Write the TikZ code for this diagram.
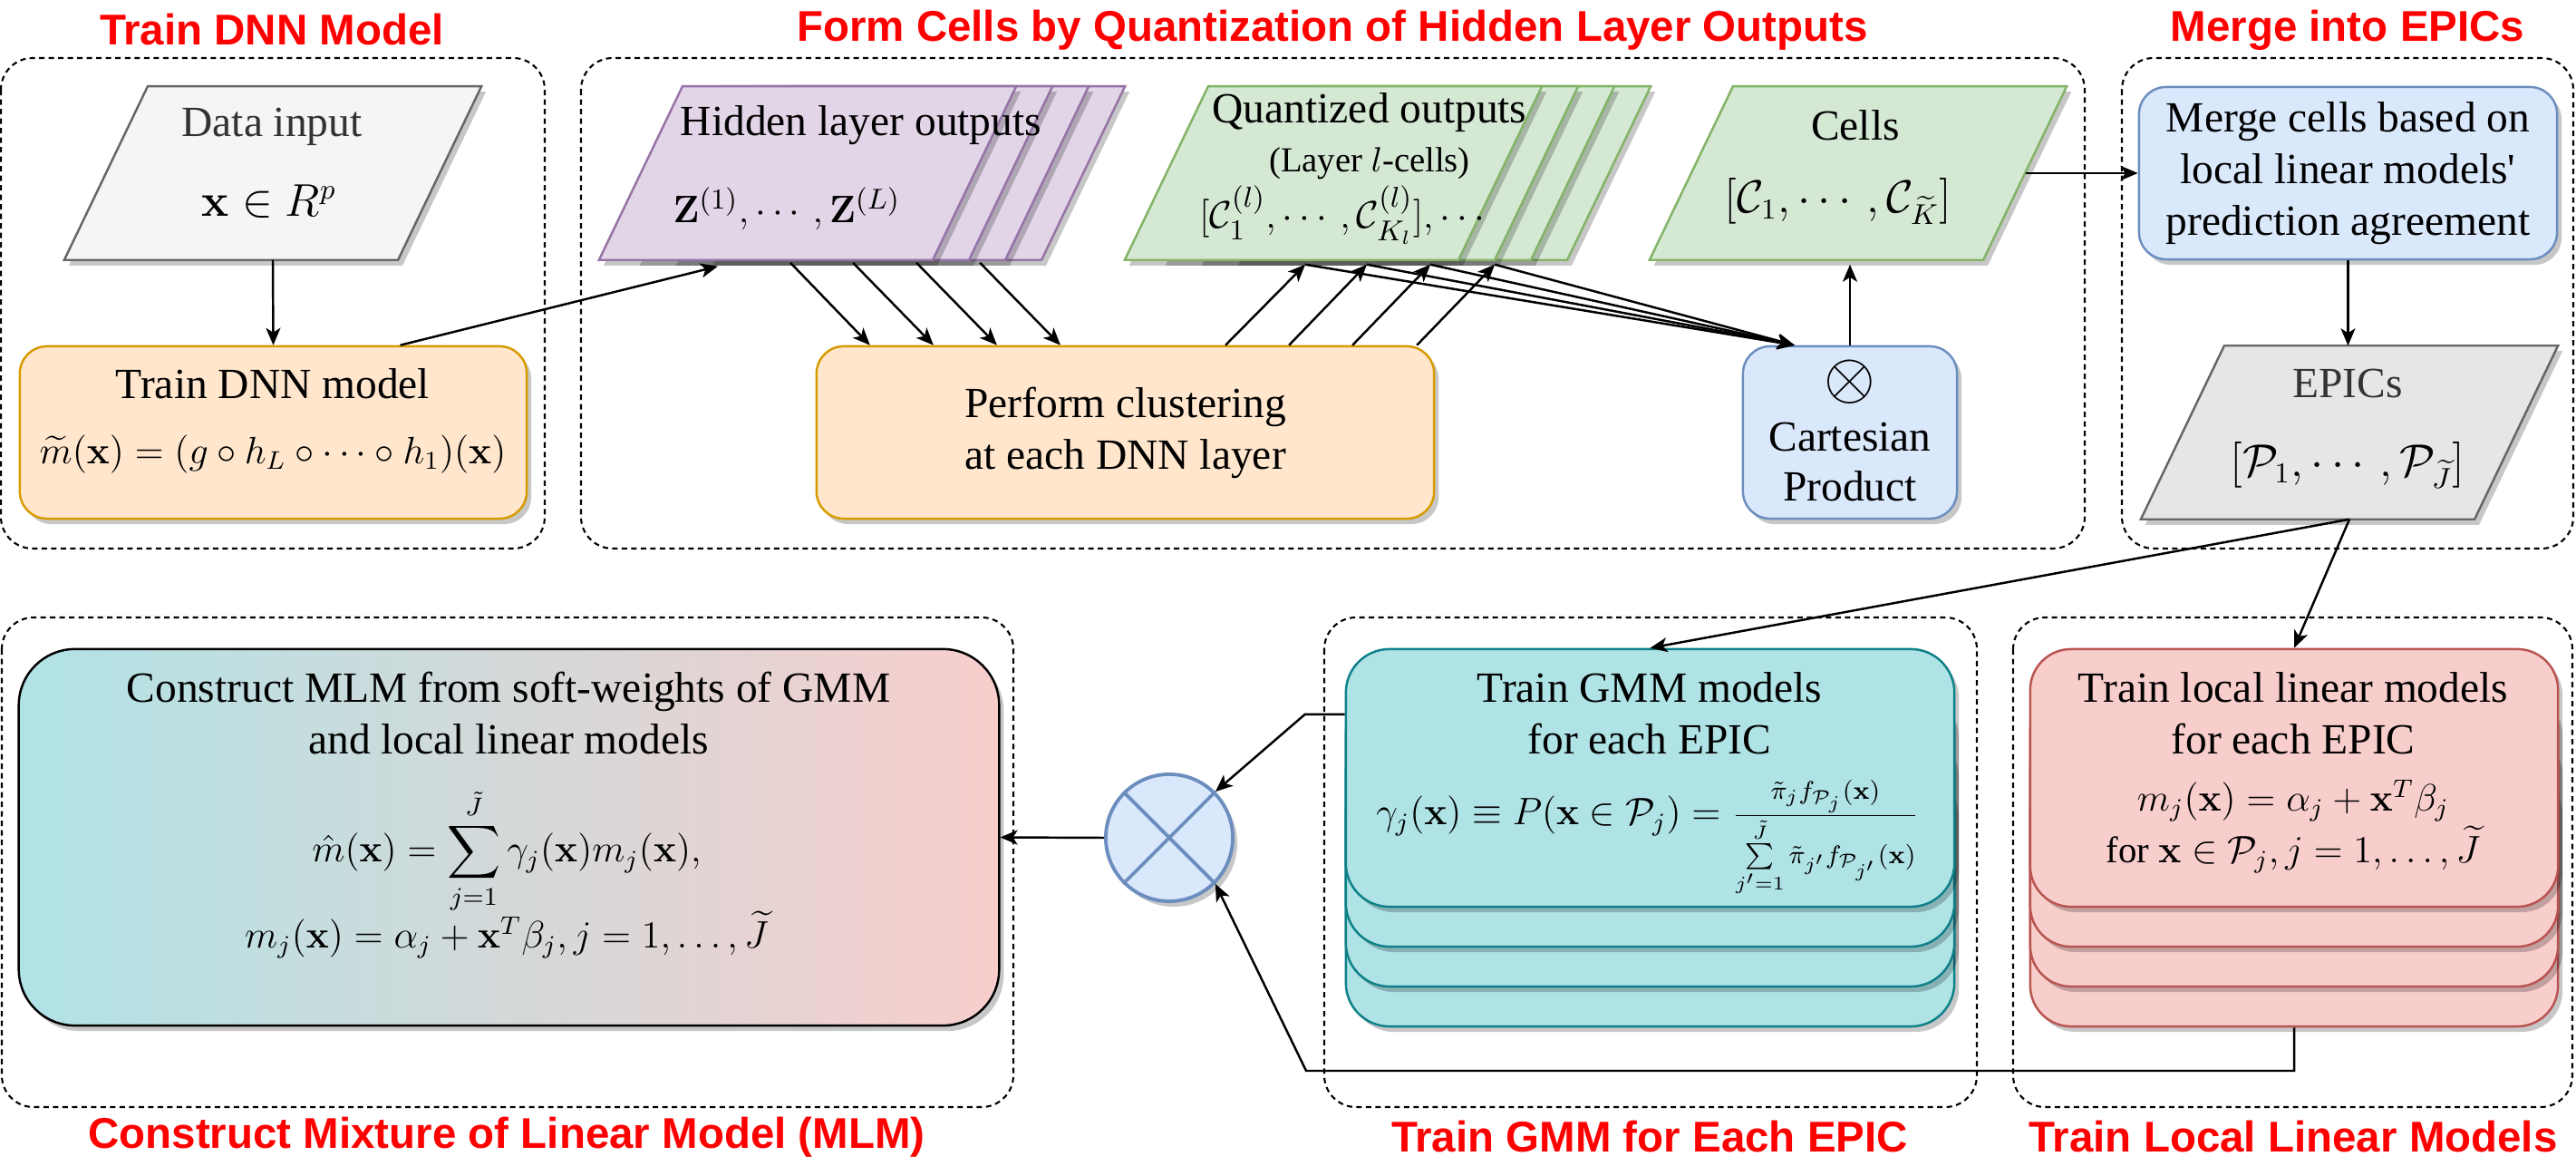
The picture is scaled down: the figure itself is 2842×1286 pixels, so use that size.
\documentclass[tikz,border=0pt]{standalone}
\usepackage[no-math]{fontspec}
\setmainfont{Liberation Serif}
\newfontfamily\sqf{Liberation Serif}
\newfontfamily\ttlfont{Liberation Sans}
\usepackage{amsmath,amssymb}
\usetikzlibrary{shadows,arrows.meta}
\definecolor{cgrayF}{HTML}{F5F5F5}
\definecolor{cgrayS}{HTML}{666666}
\definecolor{ctext}{HTML}{333333}
\definecolor{corF}{HTML}{FFE6CC}\definecolor{corS}{HTML}{D79B00}
\definecolor{cpuF}{HTML}{E1D5E7}\definecolor{cpuS}{HTML}{9673A6}
\definecolor{cgrF}{HTML}{D5E8D4}\definecolor{cgrS}{HTML}{82B366}
\definecolor{cblF}{HTML}{DAE8FC}\definecolor{cblS}{HTML}{6C8EBF}
\definecolor{cepF}{HTML}{E6E6E6}
\definecolor{cteF}{HTML}{B0E3E6}\definecolor{cteS}{HTML}{0E8088}
\definecolor{crdF}{HTML}{F8CECC}\definecolor{crdS}{HTML}{B85450}
\definecolor{ctitle}{HTML}{FF0000}
\newcommand\bdyfnt{\fontsize{13.5}{16.2}\selectfont}
\newcommand\ttlfnt{\ttlfont\bfseries\fontsize{13.5}{16}\selectfont}
% parallelogram: name, x, y, draw options
\newcommand\parag[4]{%
  \node[minimum width=4.6cm,minimum height=1.9cm,inner sep=0pt] (#1) at (#2,#3) {};
  \draw[line width=0.7pt,shad,#4] ([xshift=-2.3cm]#1.south) -- ([xshift=1.38cm]#1.south)
     -- ([xshift=2.3cm]#1.north) -- ([xshift=-1.38cm]#1.north) -- cycle;}
\begin{document}
\begin{tikzpicture}[x=0.01cm,y=-0.01cm,
  shad/.style={drop shadow={shadow xshift=0.05cm,shadow yshift=-0.06cm,fill=black,opacity=0.22}},
  rbox/.style={rectangle,rounded corners=#1,line width=0.7pt,shad,inner sep=0pt,align=center,font=\bdyfnt},
  rbox/.default=0.3cm,
  txt/.style={inner sep=0pt,align=center,font=\bdyfnt},
  fm/.style={inner sep=0pt,align=center,font=\fontsize{#1}{16.2}\selectfont},
  ttl/.style={inner sep=0pt,text=ctitle,font=\ttlfnt},
  cont/.style={draw,dash pattern=on 0.06cm off 0.045cm,line width=0.6pt,rounded corners=0.35cm},
  arr/.style={line width=0.7pt,-{Stealth[length=0.19cm,width=0.16cm,inset=0.05cm]}}]
\useasboundingbox (0,0) rectangle (2842,1286);

% titles
\node[ttl] (t1) at (300,33) {Train DNN Model};
\node[ttl] (t2) at (1470,33) {Form Cells by Quantization of Hidden Layer Outputs};
\node[ttl] (t3) at (2590,33) {Merge into EPICs};
\node[ttl] (t4) at (559,1254) {Construct Mixture of Linear Model (MLM)};
\node[ttl] (t5) at (1820,1254) {Train GMM for Each EPIC};
\node[ttl] (t6) at (2530,1254) {Train Local Linear Models};

% containers
\draw[cont] (1,64) rectangle (601,605);
\draw[cont] (641,64) rectangle (2300,605);
\draw[cont] (2341,64) rectangle (2839,605);
\draw[cont] (2,681) rectangle (1118,1221);
\draw[cont] (1461,681) rectangle (2181,1221);
\draw[cont] (2221,681) rectangle (2838,1221);

% Train DNN column
\parag{data}{301}{191}{draw=cgrayS,fill=cgrayF}
\node[txt,text=ctext] (tdata) at (300,140) {Data input};
\node[txt] (fdata) at (297,222) {$\mathbf{x}\in R^p$};
\node[rbox,draw=corS,fill=corF,minimum width=5.59cm,minimum height=1.9cm] (train) at (301.5,477) {};
\node[txt] (ttrain) at (301,423) {Train DNN model};
\node[fm=11.6] (ftrain) at (301,501) {$\widetilde{m}(\mathbf{x}) = (g\circ h_L\circ\cdots\circ h_1)(\mathbf{x})$};

% hidden layer stack
\foreach \k in {3,2,1,0}{
  \parag{hid\k}{891+40*\k}{191}{draw=cpuS,fill=cpuF}
}
\node[txt] (thid) at (950,138) {Hidden layer outputs};
\node[fm=12.3] (fhid) at (868,230) {$\mathbf{Z}^{(1)},\cdots,\mathbf{Z}^{(L)}$};

% quantized stack
\foreach \k in {3,2,1,0}{
  \parag{q\k}{1471+40*\k}{191}{draw=cgrS,fill=cgrF}
}
\node[txt] (tq) at (1511,124) {Quantized outputs};
\node[fm=11] (tq2) at (1511,180) {(Layer $l$-cells)};
\node[fm=12.9] (fq) at (1484,237) {$[\mathcal{C}^{(l)}_1,\cdots,\mathcal{C}^{(l)}_{K_l}],\cdots$};

% cells
\parag{cells}{2050}{191}{draw=cgrS,fill=cgrF}
\node[txt] (tcells) at (2047,138) {Cells};
\node[txt] (fcells) at (2028,222) {$[\mathcal{C}_1,\cdots,\mathcal{C}_{\widetilde{K}}]$};

% clustering, cartesian
\node[rbox,draw=corS,fill=corF,minimum width=6.81cm,minimum height=1.9cm] (clust) at (1241.5,477) {Perform clustering\\at each DNN layer};
\node[rbox,draw=cblS,fill=cblF,minimum width=2.36cm,minimum height=1.9cm] (cart) at (2041,477) {};
\node[fm=21] (otim) at (2041,421) {$\otimes$};
\node[txt] (tcart1) at (2041,482) {Cartesian};
\node[txt] (tcart2) at (2041,536) {Product};

% merge, epics
\node[rbox,draw=cblS,fill=cblF,minimum width=4.61cm,minimum height=1.9cm] (merge) at (2590.5,191) {Merge cells based on\\local linear models{\sqf '}\\prediction agreement};
\parag{epics}{2592}{477}{draw=cgrayS,fill=cepF}
\node[txt,text=ctext] (tep) at (2590,423) {EPICs};
\node[txt] (fep) at (2590,513) {$[\mathcal{P}_1,\cdots,\mathcal{P}_{\widetilde{J}}]$};

% MLM
\node[rbox=0.62cm,draw=black,left color=cteF,right color=crdF,minimum width=10.81cm,minimum height=4.15cm] (mlm) at (561.5,923.5) {};
\node[txt] (tmlm) at (561,787) {Construct MLM from soft-weights of GMM\\and local linear models};
\node[fm=11.6,anchor=base] (fmlm1) at (559,951) {$\displaystyle \hat{m}(\mathbf{x})=\sum_{j=1}^{\tilde{J}}\gamma_j(\mathbf{x})m_j(\mathbf{x}),$};
\node[fm=12] (fmlm2) at (559,1031) {$m_j(\mathbf{x})=\alpha_j+\mathbf{x}^T\beta_j, j=1,\ldots,\widetilde{J}$};

% combiner
\node[circle,draw=cblS,fill=cblF,line width=1.1pt,minimum size=1.4cm,inner sep=0pt,shad] (circ) at (1290,924) {};
\draw[cblS,line width=1.1pt] (circ.45) -- (circ.-135) (circ.135) -- (circ.-45);

% GMM stack
\foreach \k in {3,2,1,0}{
  \node[rbox=0.48cm,draw=cteS,fill=cteF,minimum width=6.71cm,minimum height=2.84cm] (gmm\k) at (1820.5,858+44*\k) {};
}
\node[txt] (tgmm) at (1820,787) {Train GMM models\\for each EPIC};
\node[fm=11.6,anchor=base] (fgmm) at (1818,910) {$\gamma_j(\mathbf{x})\equiv P(\mathbf{x}\in\mathcal{P}_j)=\frac{\tilde{\pi}_j f_{\mathcal{P}_j}(\mathbf{x})}{\sum\limits_{j'=1}^{\tilde{J}}\tilde{\pi}_{j'}f_{\mathcal{P}_{j'}}(\mathbf{x})}$};

% local stack
\foreach \k in {3,2,1,0}{
  \node[rbox=0.45cm,draw=crdS,fill=crdF,minimum width=5.82cm,minimum height=2.84cm] (loc\k) at (2531,858+44*\k) {};
}
\node[txt] (tloc) at (2530,787) {Train local linear models\\for each EPIC};
\node[fm=11.8] (floc1) at (2530,883) {$m_j(\mathbf{x})=\alpha_j+\mathbf{x}^T\beta_j$};
\node[fm=11.6] (floc2) at (2530,937) {for $\mathbf{x}\in\mathcal{P}_j, j=1,\ldots,\widetilde{J}$};

% connectors
\draw[arr] (data.south) -- (train.north);
\draw[arr] ([xshift=1.4cm]train.north) -- ([xshift=-0.99cm,yshift=-0.07cm]hid0.south);
\foreach \s/\e in {-0.19/-2.815,0.5/-2.115,1.2/-1.415,1.9/-0.715}{
  \draw[arr] ([xshift=\s cm,yshift=-0.03cm]hid0.south) -- ([xshift=\e cm]clust.north);
}
\foreach \s/\e in {1.105/-0.31,1.805/0.37,2.505/1.07,3.215/1.78}{
  \draw[arr] ([xshift=\s cm]clust.north) -- ([xshift=\e cm,yshift=-0.05cm]q0.south);
  \draw[arr] ([xshift=\e cm,yshift=-0.05cm]q0.south) -- ([xshift=-0.61cm]cart.north);
}
\draw[arr] (cart.north) -- ([yshift=-0.05cm]cart.north |- cells.south);
\draw[arr] ([xshift=-0.46cm]cells.east) -- (merge.west);
\draw[arr] (merge.south) -- (merge.south |- epics.north);
\draw[arr] (epics.south) -- (gmm0.north);
\draw[arr] (epics.south) -- (loc0.north);
\draw[arr] ([yshift=0.7cm]gmm0.west) -- ++(-44,0) -- (circ.45);
\coordinate (lb) at (1441,1181);
\draw[arr] (loc3.south) |- (lb) -- (circ.-45);
\draw[arr] (circ.west) -- (mlm.east);
\end{tikzpicture}
\end{document}
